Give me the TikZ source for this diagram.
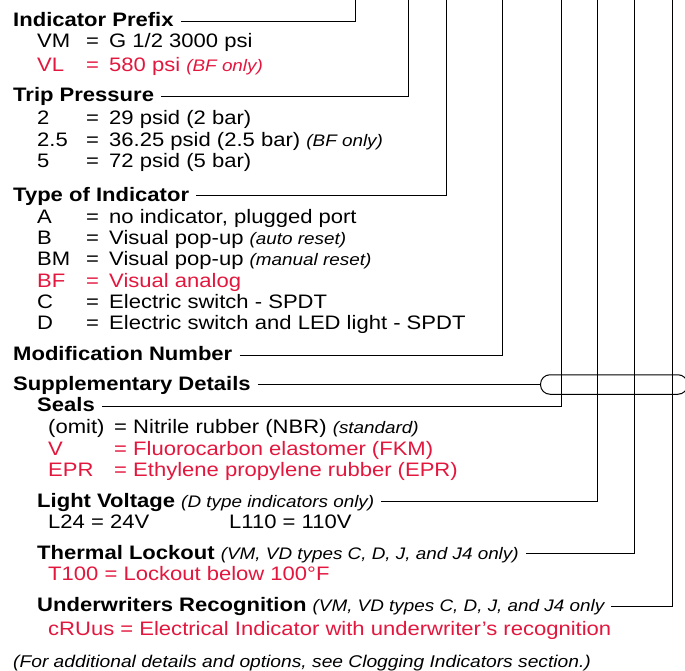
\documentclass[tikz,border=0pt]{standalone}
\usepackage{fontspec}
\setmainfont{Liberation Sans}[FakeStretch=1.13]
\definecolor{pred}{HTML}{E3173E}
\newcommand\sm[1]{{\fontsize{16.7}{18}\selectfont\mdseries\itshape #1}}
\newcommand\optrow[5][]{%
  \node[txt,#1] (#2c) at (37,#3) {#4};
  \node[txt,#1] (#2e) at (86,#3) {=};
  \node[txt,#1] (#2v) at (109,#3) {#5};}
\newcommand\sealrow[5][]{%
  \node[txt,#1] (#2c) at (48,#3) {#4};
  \node[txt,#1] (#2e) at (114,#3) {=};
  \node[txt,#1] (#2v) at (133,#3) {#5};}
\begin{document}
\begin{tikzpicture}[x=1pt,y=-1pt,
  every node/.style={inner sep=0pt, anchor=base west},
  txt/.style={font=\fontsize{19.5}{21}\selectfont},
  head/.style={font=\fontsize{19.5}{21}\selectfont\bfseries},
  foot/.style={font=\fontsize{17}{19}\selectfont\itshape},
  red/.style={text=pred},
  conn/.style={line width=1pt, draw=black}]
\useasboundingbox (0,0) rectangle (685,671);

% top coordinates of the vertical connectors
\coordinate (t1) at (355,0);
\coordinate (t2) at (408,0);
\coordinate (t3) at (446,0);
\coordinate (t4) at (502,0);
\coordinate (t5) at (561,0);
\coordinate (t6) at (597,0);
\coordinate (t7) at (634,0);
\coordinate (t8) at (672,0);

% Indicator Prefix
\node[head] (ip) at (13,27) {Indicator Prefix};
\optrow{vm}{48}{VM}{G 1/2 3000 psi}
\optrow[red]{vl}{71.5}{VL}{580 psi \sm{(BF only)}}

% Trip Pressure
\node[head] (tp) at (13,102) {Trip Pressure};
\optrow{pa}{124.5}{2}{29 psid (2 bar)}
\optrow{pb}{146.5}{2.5}{36.25 psid (2.5 bar) \sm{(BF only)}}
\optrow{pc}{168}{5}{72 psid (5 bar)}

% Type of Indicator
\node[head] (ti) at (13,201.5) {Type of Indicator};
\optrow{ia}{223}{A}{no indicator, plugged port}
\optrow{ib}{244}{B}{Visual pop-up \sm{(auto reset)}}
\optrow{ibm}{265.5}{BM}{Visual pop-up \sm{(manual reset)}}
\optrow[red]{ibf}{287}{BF}{Visual analog}
\optrow{ic}{308}{C}{Electric switch - SPDT}
\optrow{id}{329}{D}{Electric switch and LED light - SPDT}

% Modification Number
\node[head] (mn) at (13,360.5) {Modification Number};

% Supplementary Details
\node[head] (sd) at (13,390.5) {Supplementary Details};
\node[draw, line width=1pt, rounded corners=9.5pt, minimum width=147pt,
      minimum height=19.5pt, anchor=west] (br) at (540,384.5) {};

\node[head] (se) at (37,411.5) {Seals};
\sealrow{so}{433}{(omit)}{Nitrile rubber (NBR) \sm{(standard)}}
\sealrow[red]{sv}{455}{V}{Fluorocarbon elastomer (FKM)}
\sealrow[red]{sp}{476.5}{EPR}{Ethylene propylene rubber (EPR)}

\node[head] (lv) at (37,507) {Light Voltage \sm{(D type indicators only)}};
\node[txt] (l24) at (48,528) {L24 = 24V};
\node[txt] (l110) at (229,528) {L110 = 110V};

\node[head] (tl) at (37,559) {Thermal Lockout \sm{(VM, VD types C, D, J, and J4 only)}};
\node[txt,red] (t100) at (48,580.5) {T100 = Lockout below 100°F};

\node[head] (ur) at (37,611.5) {Underwriters Recognition \sm{(VM, VD types C, D, J, and J4 only}};
\node[txt,red] (cru) at (48,635.5) {cRUus = Electrical Indicator with underwriter’s recognition};

\node[foot] (ft) at (13,667) {(For additional details and options, see Clogging Indicators section.)};

% connectors
\draw[conn] ([xshift=7pt,yshift=5.5pt]ip.base east) -| (t1);
\draw[conn] ([xshift=7pt,yshift=5.5pt]tp.base east) -| (t2);
\draw[conn] ([xshift=7pt,yshift=5.5pt]ti.base east) -| (t3);
\draw[conn] ([xshift=7pt,yshift=5.5pt]mn.base east) -| (t4);
\draw[conn] ([xshift=7pt]sd.base east |- br.west) -- (br.west);
\draw[conn] ([xshift=7pt,yshift=5.5pt]se.base east) -| (t5);
\draw[conn] ([xshift=7pt,yshift=5.5pt]lv.base east) -| (t6);
\draw[conn] ([xshift=7pt,yshift=5.5pt]tl.base east) -| (t7);
\draw[conn] ([xshift=7pt,yshift=5.5pt]ur.base east) -| (t8);
\end{tikzpicture}
\end{document}
